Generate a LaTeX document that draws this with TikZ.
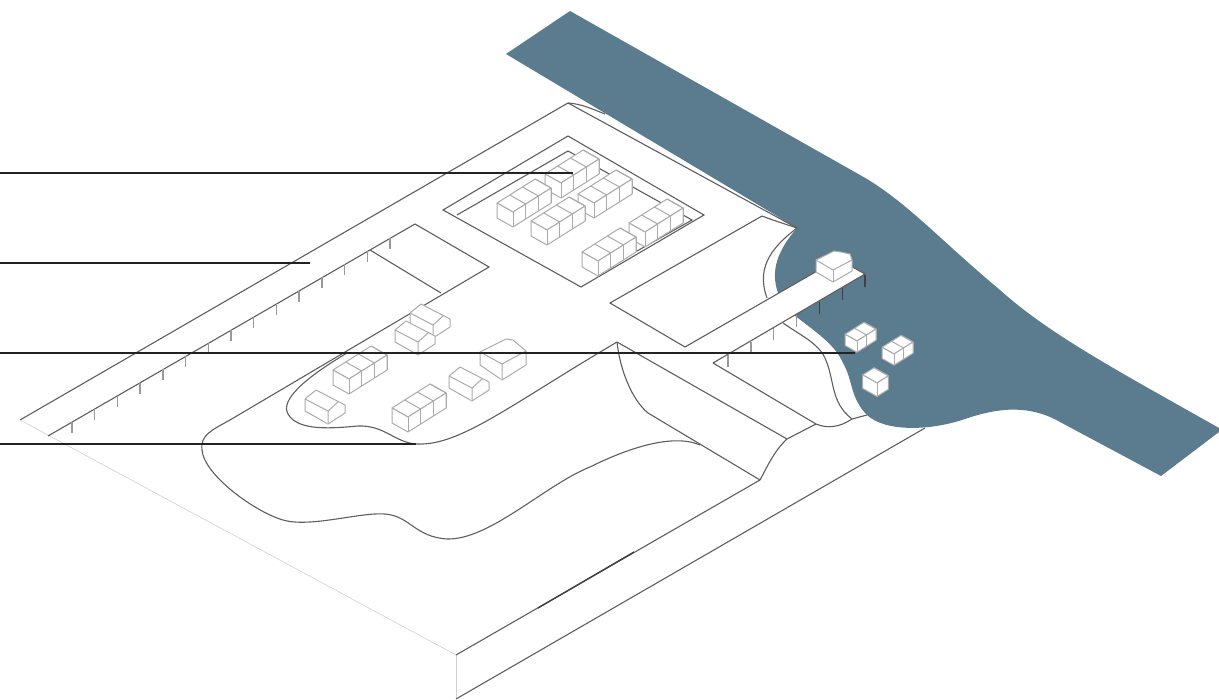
\documentclass[tikz,border=0pt]{standalone}
\usepackage{tikz}
\usetikzlibrary{calc}
\definecolor{harbour}{HTML}{5B7B8E}
\definecolor{edgegrey}{HTML}{5E5E5E}
\definecolor{blockgrey}{HTML}{ABABAB}
\definecolor{leadblack}{HTML}{222222}
\tikzset{
  land/.style={edgegrey, line width=1.1pt},
  faint/.style={black!18, line width=0.6pt},
  block/.style={blockgrey, line width=1pt, line join=round, fill=white},
  post/.style={black!40, line width=1.4pt},
  wetpost/.style={black!75, line width=1.3pt},
  lead/.style={leadblack, line width=2.1pt}
}
% row of cubes: x, y of the front top corner, number of cubes, scale
\newcommand{\blockrow}[4]{
\begin{scope}[shift={(#1,#2)},scale=#4]
\draw[block] (-16,-9) -- (0,0) -- ({12.7*#3},{-8*#3}) -- ({12.7*#3-16},{-8*#3-9}) -- cycle;
\draw[block] (-16,-9) -- (-16,6) -- (0,15) -- ({12.7*#3},{15-8*#3}) -- ({12.7*#3},{-8*#3}) -- (0,0) -- cycle;
\draw[block] (0,0) -- (0,15);
\foreach \n in {1,...,#3} {
  \draw[blockgrey, line width=1pt] ({12.7*\n},{-8*\n}) -- ({12.7*\n},{15-8*\n});
  \draw[blockgrey, line width=1pt] ({12.7*\n},{-8*\n}) -- ({12.7*\n-16},{-8*\n-9});
}
\end{scope}
}
% pitched house: x, y of the front top corner, scale
\newcommand{\pitchhouse}[3]{
\begin{scope}[shift={(#1,#2)},scale=#3]
\draw[block] (-23,-12) -- (-12,-21) -- (17,-6) -- (17,2) -- (0,13) -- (-23,0) -- cycle;
\draw[block] (-23,-12) -- (0,0) -- (0,13);
\draw[block] (0,0) -- (10,-9);
\end{scope}
}
\begin{document}
\begin{tikzpicture}[x=1pt,y=-1pt]
\useasboundingbox (0,0) rectangle (1219,700);

% water
\fill[harbour] (506,54) -- (570,11) -- (860,175)
  .. controls (905,200) and (940,240) .. (1000,290)
  .. controls (1050,335) and (1120,372) .. (1219,428)
  -- (1219,432) -- (1161,476) -- (1060,422)
  .. controls (1030,405) and (1000,407) .. (965,419)
  .. controls (930,431) and (885,432) .. (867,415)
  .. controls (850,398) and (853,380) .. (843,363)
  .. controls (835,345) and (820,335) .. (790,312)
  -- (778,293)
  .. controls (770,270) and (778,250) .. (797,228) -- cycle;

\coordinate (A) at (20,420);
\coordinate (B) at (568,103);
\coordinate (C) at (797,228);
\coordinate (D) at (456,655);
\coordinate (E) at (456,699);
\coordinate (F) at (925,428);
\coordinate (G) at (760,480);
\coordinate (H) at (617,342);
\coordinate (J) at (787,439);
\coordinate (K) at (816,424);
\coordinate (L) at (852,419);
\coordinate (M) at (867,415);

% site outline
\draw[land] (A) -- (B) -- (C);
\draw[land] (B) .. controls (582,104) and (592,109) .. (605,114);
\draw[faint] (A) -- (D);
\draw[faint] (D) -- (E);
\draw[land] (D) -- (G);
\draw[land] (E) -- (F);
\draw[black!75, line width=1.4pt] (538,608) -- (634,552);

% roads and plots
\draw[land] (48,436) -- (415,224) -- (489,267) -- (230,420)
  .. controls (212,430) and (200,435) .. (202,450)
  .. controls (204,475) and (255,512) .. (283,520)
  .. controls (310,528) and (360,512) .. (385,514)
  .. controls (410,516) and (415,537) .. (447,539)
  .. controls (490,540) and (545,485) .. (590,467)
  .. controls (620,452) and (670,432) .. (700,445);
\draw[land] (370,250) -- (441,293);
\draw[land] (347,353)
  .. controls (305,378) and (280,400) .. (288,414)
  .. controls (298,432) and (335,428) .. (358,426)
  .. controls (385,425) and (395,443) .. (417,444)
  .. controls (460,446) and (510,405) .. (H);
\draw[land] (H) .. controls (620,370) and (632,400) .. (648,413) -- (G);
\draw[land] (H) -- (J) -- (K);
\draw[land] (J) .. controls (775,450) and (768,465) .. (G);
\draw[land] (762,216) .. controls (772,220) and (785,224) .. (C);
\draw[land] (762,216) -- (610,303) -- (685,347);
\draw[land] (713,363) -- (K)
  .. controls (828,429) and (840,427) .. (L) -- (M);
\draw[land] (C) .. controls (775,245) and (755,265) .. (767,298);
\draw[land] (783,323) .. controls (800,335) and (818,343) .. (825,358)
  .. controls (835,380) and (830,402) .. (L);

% plot with the block rows
\draw[land] (568,136) -- (704,215) -- (581,287) -- (443,210) -- cycle;
\draw[land] (457,215) -- (568,151) -- (692,220) -- (598,273);
\blockrow{561}{183}{3}{1}
\blockrow{594}{203}{3}{1}
\blockrow{513}{212}{3}{1}
\blockrow{547}{230}{3}{1}
\blockrow{645}{232}{3}{1}
\blockrow{598}{261}{3}{1}

% pier
\foreach \i in {0,...,6} {
  \coordinate (pier\i) at ($(728,355)!\i/6!(865,275)$);
}
\foreach \i in {0,...,3} {
  \draw[post] (pier\i) -- ++(0,12);
}
\foreach \i in {4,...,6} {
  \draw[wetpost] (pier\i) -- ++(0,12);
}
\fill[white] (685,347) -- (838,259) -- (865,274) -- (713,363) -- cycle;
\draw[land] (685,347) -- (838,259) -- (865,274) -- (713,363);
\draw[block] (816,260) -- (834,251) -- (841,252) -- (850,254) -- (852,260) -- (852,271) -- (833,282) -- (816,272) -- cycle;
\draw[block] (816,260) -- (833,270) -- (852,260);
\draw[block] (833,270) -- (833,282);

% fence along the road
\foreach \i in {0,...,14} {
  \draw[post] ($(72,422)!\i/14!(390,238)$) -- ++(0,11);
}

% houses
\pitchhouse{433}{325}{1}
\pitchhouse{418}{342}{1}
\blockrow{349}{379}{3}{1}
\pitchhouse{328}{411}{1}
\blockrow{408}{417}{3}{1}
\pitchhouse{472}{388}{1}
\draw[block] (480,352) -- (506,339) -- (513,340) -- (526,351) -- (526,365) -- (502,380) -- (480,365) -- cycle;
\draw[block] (480,352) -- (502,364) -- (502,380);
\draw[block] (502,364) -- (526,351);

% boats
\blockrow{857}{341}{2}{0.75}
\blockrow{894}{354}{2}{0.75}
\blockrow{877}{383}{1}{0.9}

% leader lines
\coordinate (lead1) at (0,173);
\coordinate (lead2) at (0,263);
\coordinate (lead3) at (0,353);
\coordinate (lead4) at (0,444);
\draw[lead] (lead1) -- (573,173);
\draw[lead] (lead2) -- (310,263);
\draw[lead] (lead3) -- (855,353);
\draw[lead] (lead4) -- (416,444);
\end{tikzpicture}
\end{document}
